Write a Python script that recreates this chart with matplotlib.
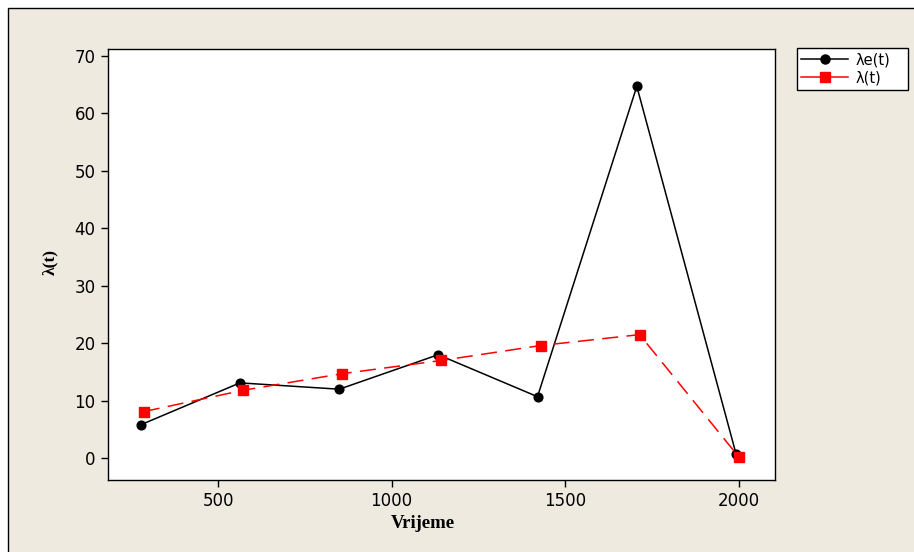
import matplotlib.pyplot as plt
from matplotlib.patches import Rectangle
from matplotlib.lines import Line2D

# observed lambda_e(t) and fitted lambda(t)
t_obs = [277, 563, 849, 1134, 1420, 1706, 1992]
lam_obs = [5.8, 13.1, 12.0, 18.0, 10.7, 64.7, 0.7]
t_fit = [286, 571, 857, 1143, 1429, 1714, 2000]
lam_fit = [8.1, 11.8, 14.7, 17.0, 19.6, 21.5, 0.2]

xticks = [500, 1000, 1500, 2000]
yticks = [0, 10, 20, 30, 40, 50, 60, 70]

W, H = 914, 552
bg = '#eeeae0'

fig = plt.figure(figsize=(W / 100, H / 100), dpi=100, facecolor='white')
frame = Rectangle((8 / W, -0.1), 1.2, 1 - 8 / H + 0.1,
                  transform=fig.transFigure, facecolor=bg,
                  edgecolor='black', linewidth=1.0, zorder=-10)
fig.add_artist(frame)

ax = fig.add_axes([108 / W, 1 - 480 / H, (775 - 108) / W, (480 - 49) / H])
ax.set_facecolor('white')

ax.plot(t_obs, lam_obs, color='black', linewidth=1.1, marker='o',
        markersize=6.3, zorder=3)
ax.plot(t_fit, lam_fit, color='red', linewidth=1.1, marker='s',
        markersize=6.8, dashes=(10.5, 5.5), zorder=4)

ax.set_xlim(183, 2104)
ax.set_ylim(-3.8, 71.2)
ax.set_xticks(xticks)
ax.set_yticks(yticks)
ax.tick_params(direction='out', length=5, width=1, labelsize=12,
               colors='black', pad=4)
for s in ax.spines.values():
    s.set_linewidth(1.0)
    s.set_color('black')

fig.text(423 / W, 1 - 524 / H, 'Vrijeme', ha='center', va='center',
         family='Liberation Serif', weight='bold', fontsize=13.5)
fig.text(50 / W, 1 - 262 / H, 'λ(t)', ha='center', va='center',
         rotation=90, family='Liberation Serif', weight='bold', fontsize=12.5)

handles = [Line2D([], [], color='black', linewidth=1.1, marker='o', markersize=6.5),
           Line2D([], [], color='red', linewidth=1.1, marker='s', markersize=7)]
leg = fig.legend(handles, ['λe(t)', 'λ(t)'], loc='upper left',
                 bbox_to_anchor=(797 / W, 1 - 93 / H, 111 / W, 45 / H),
                 mode='expand', fontsize=10.5, frameon=True, fancybox=False,
                 framealpha=1, edgecolor='black', handlelength=3.2,
                 borderpad=0.3, labelspacing=0.2, handletextpad=0.55,
                 borderaxespad=0)
leg.get_frame().set_linewidth(1.0)

fig.savefig('out.png', dpi=100, facecolor=fig.get_facecolor())
